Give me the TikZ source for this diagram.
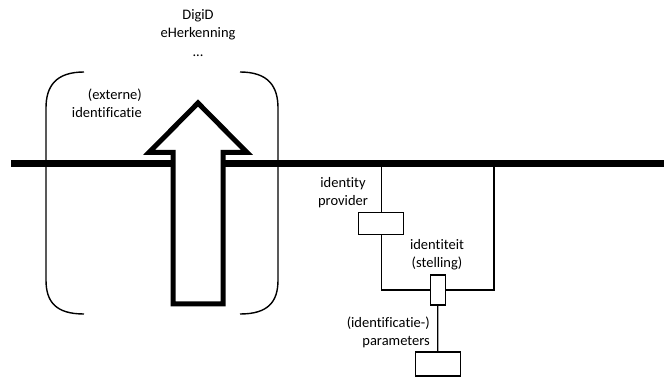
\documentclass[tikz,border=0pt]{standalone}
\usepackage{fontspec}
\setmainfont{Carlito}[Ligatures=NoCommon]
\begin{document}
\begin{tikzpicture}[x=1pt,y=-1pt,
  every node/.style={font=\fontsize{14.5}{18}\selectfont, inner sep=0pt},
  lbl/.style={align=center},
  comp/.style={draw, fill=white, line width=1.2pt, inner sep=0pt},
  thinline/.style={line width=1.2pt},
  bracket/.style={line width=1.4pt}]
\useasboundingbox (0,0) rectangle (664,379);
% main horizontal line
\coordinate (hl) at (11,163.5);
\coordinate (hr) at (664,163.5);
\draw[line width=7pt] (hl) -- (hr);
% brackets
\draw[bracket] (84,72) .. controls (56,72) and (46,86) .. (46,108) -- (46,280) .. controls (46,302) and (56,314) .. (84,314);
\draw[bracket] (240,72) .. controls (268,72) and (278,86) .. (278,108) -- (278,280) .. controls (278,302) and (268,314) .. (240,314);
% big arrow
\draw[line width=5pt, fill=white, line join=miter, miter limit=10]
  (173,304) -- (173,152.5) -- (149,152.5) -- (198,103) -- (247,152.5) -- (223,152.5) -- (223,304) -- cycle;
% top labels
\node[lbl] (digid) at (198,16) {DigiD};
\node[lbl] (eherk) at (198,34) {eHerkenning};
\node[lbl] (dots) at (198,56) {...};
\node[align=right, anchor=east] (ext) at (142,103.5) {(externe)\\identificatie};
% right structure
\coordinate (bl) at (381.7,163.5);
\coordinate (br) at (494,163.5);
\coordinate (bbl) at (381.7,290);
\coordinate (bbr) at (494,290);
\draw[thinline] (bl) -- (bbl) -- (bbr) -- (br);
\node[comp, minimum width=45pt, minimum height=22.5pt] (idp) at (381.3,223.6) {};
\node[comp, minimum width=15pt, minimum height=30pt] (idt) at (437.7,290) {};
\node[comp, minimum width=45pt, minimum height=24pt] (par) at (437.8,364) {};
\draw[thinline] (idt.south) -- (par.north);
\node[lbl] (idpl) at (343,193) {identity\\provider};
\node[lbl] (idtl) at (437,254.5) {identiteit\\(stelling)};
\node[align=right, anchor=east] (parl) at (430,332) {(identificatie-)\\parameters};
\end{tikzpicture}
\end{document}
